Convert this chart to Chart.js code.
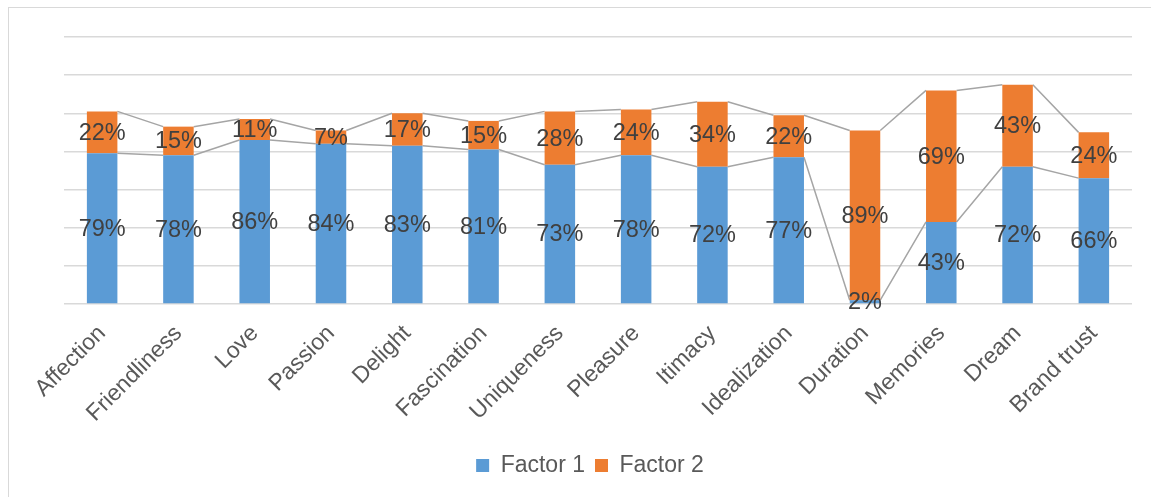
<!DOCTYPE html>
<html>
<head>
<meta charset="utf-8">
<script src="https://cdn.jsdelivr.net/npm/chart.js@4.4.1/dist/chart.umd.min.js"></script>
<style>
  html, body { margin: 0; padding: 0; background: #ffffff; overflow: hidden; }
  #frame { position: absolute; left: 8px; top: 7px; width: 1300px; height: 700px;
           border: 1.5px solid #d9d9d9; box-sizing: border-box; }
  #wrap { position: absolute; left: 0; top: 0; width: 1151px; height: 497px; }
</style>
</head>
<body>
<div id="frame"></div>
<div id="wrap"><canvas id="chart" width="1151" height="497"></canvas></div>
<script>
// Brand love dimensions, share of loading on each factor (%)
const categories = ['Affection', 'Friendliness', 'Love', 'Passion', 'Delight', 'Fascination',
  'Uniqueness', 'Pleasure', 'Itimacy', 'Idealization', 'Duration', 'Memories', 'Dream', 'Brand trust'];
const factor1 = [79, 78, 86, 84, 83, 81, 73, 78, 72, 77, 2, 43, 72, 66];
const factor2 = [22, 15, 11, 7, 17, 15, 28, 24, 34, 22, 89, 69, 43, 24];
const seriesNames = ['Factor 1', 'Factor 2'];
const yTicks = [0, 20, 40, 60, 80, 100, 120, 140];

const FONT = '"Liberation Sans", Arial, sans-serif';

// Series lines joining the tops of each stacked segment between neighbouring bars
const seriesLines = {
  id: 'seriesLines',
  beforeDatasetsDraw(chart) {
    const ctx = chart.ctx;
    ctx.save();
    ctx.strokeStyle = '#a5a5a5';
    ctx.lineWidth = 1.5;
    chart.data.datasets.forEach((ds, di) => {
      const bars = chart.getDatasetMeta(di).data;
      ctx.beginPath();
      for (let i = 0; i < bars.length - 1; i++) {
        const a = bars[i], b = bars[i + 1];
        ctx.moveTo(a.x + a.width / 2, a.y);
        ctx.lineTo(b.x - b.width / 2, b.y);
      }
      ctx.stroke();
    });
    ctx.restore();
  }
};

// Percentage labels centred in each segment
const segmentLabels = {
  id: 'segmentLabels',
  afterDatasetsDraw(chart) {
    const ctx = chart.ctx;
    ctx.save();
    ctx.font = '23.5px ' + FONT;
    ctx.fillStyle = '#404040';
    ctx.textAlign = 'center';
    ctx.textBaseline = 'middle';
    chart.data.datasets.forEach((ds, di) => {
      chart.getDatasetMeta(di).data.forEach((bar, i) => {
        const y = (bar.y + bar.base) / 2;
        ctx.fillText(ds.data[i] + '%', bar.x, y + 1);
      });
    });
    ctx.restore();
  }
};

// Nudge the legend slightly left of the plot centre
const legendShift = {
  id: 'legendShift',
  afterLayout(chart) {
    if (chart.legend) { chart.legend.left -= 8; chart.legend.right -= 8; }
  }
};

new Chart(document.getElementById('chart'), {
  type: 'bar',
  data: {
    labels: categories,
    datasets: [
      { label: seriesNames[0], data: factor1, backgroundColor: '#5b9bd5', borderWidth: 0 },
      { label: seriesNames[1], data: factor2, backgroundColor: '#ed7d31', borderWidth: 0 }
    ]
  },
  options: {
    responsive: false,
    animation: false,
    events: [],
    datasets: { bar: { categoryPercentage: 1, barPercentage: 0.4 } },
    layout: { padding: { left: 64, right: 19, top: 37, bottom: 10 } },
    scales: {
      x: {
        stacked: true,
        grid: { display: false },
        border: { display: false },
        ticks: {
          autoSkip: false, maxRotation: 45, minRotation: 45, padding: 8,
          color: '#595959', font: { family: FONT, size: 23 }
        },
        afterFit(scale) { scale.height = 140; }
      },
      y: {
        stacked: true,
        min: yTicks[0],
        max: yTicks[yTicks.length - 1],
        afterBuildTicks(scale) { scale.ticks = yTicks.map(v => ({ value: v })); },
        ticks: { display: false },
        grid: { color: '#d9d9d9', lineWidth: 1.5, drawTicks: false },
        border: { display: false },
        afterFit(scale) { scale.width = 0; }
      }
    },
    plugins: {
      legend: {
        position: 'bottom',
        labels: {
          boxWidth: 13, boxHeight: 13, padding: 10,
          color: '#595959', font: { family: FONT, size: 23 }
        }
      },
      tooltip: { enabled: false }
    }
  },
  plugins: [seriesLines, segmentLabels, legendShift]
});
</script>
</body>
</html>
